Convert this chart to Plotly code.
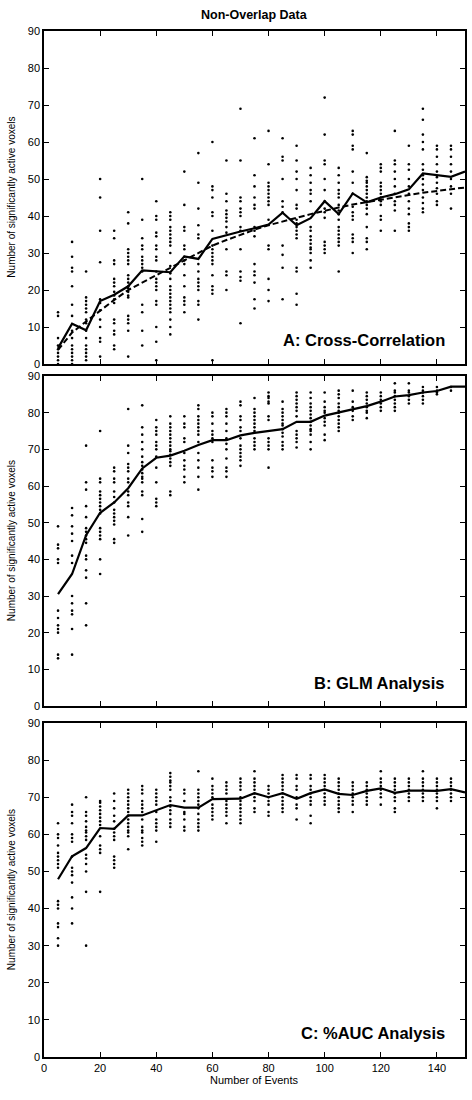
import plotly.graph_objects as go

events = [5, 10, 15, 20, 25, 30, 35, 40, 45, 50, 55, 60, 65, 70, 75,
          80, 85, 90, 95, 100, 105, 110, 115, 120, 125, 130, 135, 140, 145, 150]

# Panel A: Cross-Correlation individual runs
a_points = [
    [14, 13, 7, 5, 4, 3, 2, 1, 0],
    [33, 29, 26, 25, 21, 16, 13, 9, 7, 5, 4, 3, 2, 1, 0],
    [25, 18, 17, 16, 15, 14, 12, 11, 9, 7, 5, 4, 3, 2, 1],
    [50, 45, 36, 27.5, 17.5, 16.5, 14.5, 12, 10, 7, 6, 2],
    [36, 34, 28, 27, 23, 22, 21, 19.5, 18.5, 17.5, 16.5, 12, 11, 9, 8, 5, 4],
    [41, 38, 31, 30, 29, 28, 27, 24, 23, 22, 21, 20.5, 19.5, 18.5, 18, 13, 12, 11, 9, 2],
    [50, 39, 34, 32, 31, 29, 28, 27, 26, 25, 16, 14, 9, 5],
    [44, 40, 39, 35.5, 34.5, 32, 31, 29, 28, 25, 23, 22, 21, 20, 17, 16, 10, 6, 1],
    [41, 40, 39, 37, 36, 35, 34, 33, 32, 30, 26.5, 24.5, 23, 21, 20, 19, 18, 17, 16, 15, 14, 12, 10, 8],
    [52, 43, 37, 36, 32, 31, 29, 28, 27, 24, 21, 18, 17, 16, 14],
    [57, 49, 42, 37.5, 35, 34, 27, 25, 23, 22, 21, 20, 17, 16, 12],
    [60, 48, 47, 45, 41, 40, 36, 32, 31, 30, 29, 28, 27, 24, 21, 20, 19, 1],
    [55, 46, 44, 41.5, 40.5, 39.5, 38.5, 37, 35.5, 31, 25, 24, 20],
    [69, 55, 45, 44, 42, 41, 40, 37, 36, 31, 25, 23.5, 22.5, 11],
    [61, 51, 48, 45, 43, 42, 37, 36, 34.5, 27, 25, 24, 22, 17.5, 15],
    [63, 54, 49, 48, 47, 46, 45, 44, 43, 39, 32, 31, 23, 20, 17],
    [61, 56, 55, 50, 44, 42.5, 41, 32, 29.5, 26, 17.5],
    [59, 55, 52, 50, 47, 43, 42, 39, 38, 37, 36, 35, 34, 26, 25, 19, 16],
    [53, 51, 49, 47, 46, 44, 37, 36, 34.5, 33.5, 32.5, 31.5, 31, 30, 28, 26],
    [72, 62, 55, 54, 50, 47, 44, 42, 41, 39.5, 33, 32, 31, 30],
    [53, 51, 49, 47, 46, 45, 43, 41.5, 40.5, 39, 37, 36, 35, 34, 33, 32, 25],
    [63, 62, 59, 58, 52, 49, 46, 42.5, 41, 40, 39, 35, 34, 33, 30],
    [57, 50.5, 49.5, 49, 48, 47, 46, 45, 44, 43, 42, 40.5, 37, 34, 33, 31],
    [54, 53, 52, 49, 48, 47, 46, 45, 44, 43, 40, 39, 36],
    [63, 55, 54, 52, 50, 48, 46, 44, 43, 41.5, 36],
    [59, 54, 52.5, 50, 48, 46, 44, 42, 40.5, 38, 37, 36],
    [69, 66, 62, 60, 58, 54, 52.5, 51, 50, 48.5, 47, 45, 43.5, 42, 41],
    [59, 58, 56, 54, 52, 50.5, 49, 47.5, 46, 44, 43],
    [59, 58, 56, 54, 52, 50, 48, 46, 42],
    [],
]
a_mean = [4.3, 10.9, 9.1, 17.0, 18.7, 21, 25.3, 25.0, 24.8, 29.1, 28.4, 33.8, 34.9, 35.8, 36.7,
          37.7, 40.9, 37.5, 39.4, 44, 40.5, 46.1, 43.7, 45, 45.9, 47.2, 51.5, 51.1, 50.6, 52]
a_fit = [3.8, 8.5, 11.5, 14.5, 17.3, 20, 22, 24.2, 26, 28, 30, 32, 33.5, 35, 36.3,
         37.5, 38.6, 39.5, 40.5, 41.5, 42.3, 43.1, 43.8, 44.5, 45.1, 45.7, 46.3, 46.8, 47.3, 47.7]

# Panel B: GLM Analysis
b_points = [
    [49, 44, 43, 40, 39, 26, 24, 22, 21, 20, 14, 13],
    [54, 52, 49, 47, 45, 41, 39, 30, 28, 26, 25, 21, 14],
    [71, 61, 59, 54.5, 51.5, 48.5, 47.5, 46.5, 45.5, 44.5, 41, 40, 37, 35, 28, 22],
    [75, 62, 61, 58.5, 57.5, 56.5, 55.5, 54.5, 53.5, 52.5, 48.5, 47.5, 46.5, 45.5, 40, 36],
    [65, 64, 62, 61, 58.5, 57, 55.5, 53.5, 52.5, 51.5, 50.5, 49.5, 45.5, 44.5],
    [81, 71, 69, 66, 65, 64, 62, 61, 58.5, 57.5, 55.5, 54.5, 51.5, 46.5],
    [82, 76, 74, 72, 70, 68, 66.5, 65.5, 64.5, 63.5, 62.5, 62, 61, 58.5, 57.5, 51, 47.5],
    [78, 76, 75, 74, 72, 71, 70, 68, 65, 61, 56.5, 55.5, 54.5],
    [79, 77, 76, 75, 74, 73, 72, 71, 70, 69.5, 68.5, 67.5, 66.5, 65.5, 58.5, 57.5],
    [79, 77, 76, 73, 72, 69, 67, 65.5, 64.5, 62.5, 61],
    [82, 81, 79, 78, 77, 76, 75, 74, 72, 69, 67, 65, 62.5, 59],
    [80, 79, 77, 75, 74, 73, 72, 67, 65, 64, 62.5],
    [81, 80, 79, 77, 75, 73, 71.5, 70, 67.5, 65, 64, 62.5],
    [83, 82, 79, 78, 76, 75, 73, 71, 70, 69, 68, 67, 65.5],
    [84, 81, 80, 79, 78, 77, 76, 75, 73, 72, 71, 70],
    [85.5, 84.5, 84, 83, 82.5, 79, 78, 73, 72, 71, 70, 65],
    [83, 81, 80, 79, 78, 77, 76.5, 75.5, 74.5, 73.5, 72, 71, 70],
    [85.5, 84.5, 83.5, 82.5, 81.5, 80.5, 79, 75, 74, 73, 72, 70.5],
    [85.5, 84, 82.5, 81.5, 80.5, 79.5, 78.5, 77.5, 76.5, 75.5, 75, 74, 72, 70],
    [85.5, 83, 81.5, 80.5, 80, 78.5, 77.5, 76.5, 74, 72.5],
    [86, 85, 84, 82.5, 81.5, 80.5, 80, 79, 78, 77, 76, 75],
    [86, 83, 81.5, 80.5, 79, 78],
    [85.5, 84.5, 83.5, 82.5, 81.5, 80.5, 80, 78.5],
    [85.5, 84.5, 83.5, 82.5, 81.5, 80.5],
    [88, 86, 85.5, 84.5, 83.5, 82.5, 81.5, 80.5],
    [88, 86, 85.5, 84.5, 83.5, 82.5],
    [87, 86, 85.5, 84.5, 83.5, 82.5],
    [87, 86, 85.5, 85],
    [87, 86],
    [],
]
b_mean = [30.5, 36, 46.6, 52.7, 55.5, 59.4, 64.8, 67.7, 68.3, 69.6, 71.2, 72.5, 72.5, 73.8, 74.5,
          75.1, 75.5, 77.5, 77.5, 79.2, 80.1, 80.9, 81.8, 83, 84.4, 84.8, 85.5, 85.9, 87.1, 87.1]

# Panel C: %AUC Analysis
c_points = [
    [63, 60, 59, 57, 55, 54, 53, 52, 51, 42, 41, 40, 36, 35, 32, 30],
    [68, 66, 65, 63, 60, 59, 58, 54, 51, 50, 49, 47, 43, 40, 36],
    [70, 66, 65, 63.5, 62, 61, 60.5, 59.5, 58.5, 54.5, 53.5, 52, 50, 44.5, 30],
    [69, 68.5, 67.5, 66.5, 65.5, 64.5, 63.5, 62.5, 59.5, 57, 56, 55, 44.5],
    [71, 69, 67, 65, 63.5, 61.5, 60.5, 59.5, 58.5, 54, 53, 52, 51],
    [72, 71, 70, 69, 68, 67, 66, 65, 64, 63, 62, 61, 60.5, 59.5, 56],
    [73, 72, 71, 69, 68, 67, 66, 64, 62, 61, 60.5, 59, 58, 57],
    [72, 71, 70, 69, 68, 66, 64, 63, 62, 61, 58],
    [76.5, 75.5, 74.5, 74, 73, 72, 70, 69, 67.5, 66.5, 65.5, 64, 63, 62],
    [72, 71, 69, 66, 65.5, 64, 62, 61],
    [77, 72, 71, 70, 69, 68, 67, 65.5, 64, 63, 62, 61],
    [75, 73, 72, 71, 70, 68, 67, 66, 65, 64],
    [74, 73, 72, 71, 69, 68, 67, 66, 65, 63],
    [75, 74, 73, 72, 70, 69, 68, 67, 66, 65, 64, 63],
    [77, 75, 74, 73, 72, 71, 70, 69, 67, 66],
    [73, 72, 71, 70, 69, 68, 66, 65],
    [76, 75, 74, 73, 72, 71, 70, 69, 68, 67, 66],
    [76, 75, 73, 72, 70, 68, 67, 64],
    [76, 75, 73, 72, 71, 70, 69, 68, 65, 63],
    [76, 75, 74, 73, 72, 71, 70, 69, 68],
    [75, 74, 73, 72, 71, 70, 69, 68, 67, 66],
    [74, 73, 72, 71, 70, 69, 68, 66],
    [74, 73, 72, 71, 70, 69, 68],
    [77, 75, 74, 73, 72, 71, 70, 68],
    [75, 74, 73, 72, 71, 70, 69, 67, 66],
    [75, 74, 73, 72, 71, 70, 69],
    [77, 75, 74, 73, 72, 71, 70, 69],
    [75, 74, 73, 72, 71, 70, 69, 67],
    [75, 74, 73, 72, 71, 70, 69],
    [],
]
c_mean = [47.9, 54.1, 56.3, 61.7, 61.5, 65.1, 65.1, 66.4, 67.9, 67.2, 67.2, 69.5, 69.5, 69.6, 71.1,
          70, 71.1, 69.6, 71.1, 72.1, 70.9, 70.6, 71.7, 72.4, 71.2, 71.8, 71.8, 71.7, 72.2, 71.3]

panel_labels = ["A: Cross-Correlation", "B: GLM Analysis", "C: %AUC Analysis"]
y_title = "Number of significantly active voxels"
x_title = "Number of Events"
main_title = "Non-Overlap Data"
x_ticks = [0, 20, 40, 60, 80, 100, 120, 140]
y_ticks = [0, 10, 20, 30, 40, 50, 60, 70, 80, 90]

W, H = 472, 1100
ML, MR, MT, MB = 44, 5, 31, 43
plot_h = H - MT - MB


def py(pix):
    return (H - MB - pix) / plot_h


def px(pix):
    return (pix - ML) / (W - ML - MR)


domains = [(py(364), py(31)), (py(706), py(376)), (py(1057), py(723))]

fig = go.Figure()
FONT = "Liberation Sans, Arial, Helvetica, sans-serif"

panels = [(a_points, a_mean, a_fit), (b_points, b_mean, None), (c_points, c_mean, None)]
for i, (pts, mean, fit) in enumerate(panels):
    xs, ys = [], []
    for ev, vals in zip(events, pts):
        for v in vals:
            xs.append(ev)
            ys.append(v)
    sfx = "" if i == 0 else str(i + 1)
    fig.add_trace(go.Scatter(x=xs, y=ys, mode="markers",
                             marker=dict(size=2.6, color="black", line=dict(width=0)),
                             xaxis="x" + sfx, yaxis="y" + sfx, showlegend=False, cliponaxis=True))
    if fit is not None:
        fig.add_trace(go.Scatter(x=events, y=fit, mode="lines",
                                 line=dict(color="black", width=2, dash="6px,3px"),
                                 xaxis="x" + sfx, yaxis="y" + sfx, showlegend=False))
    fig.add_trace(go.Scatter(x=events, y=mean, mode="lines",
                             line=dict(color="black", width=2.2),
                             xaxis="x" + sfx, yaxis="y" + sfx, showlegend=False))

    axcommon = dict(showline=True, linecolor="black", linewidth=1.5, mirror="ticks",
                    ticks="inside", ticklen=5, tickwidth=1.2, tickcolor="black",
                    showgrid=False, zeroline=False,
                    tickfont=dict(family=FONT, size=11, color="black"))
    xa = dict(axcommon, domain=[0, 1], range=[0, 150], tickvals=x_ticks,
              anchor="y" + sfx, showticklabels=(i == 2))
    ya = dict(axcommon, domain=list(domains[i]), range=[0, 90], tickvals=y_ticks,
              anchor="x" + sfx)
    fig.update_layout(**{"xaxis" + sfx: xa, "yaxis" + sfx: ya})

    # y-axis title
    d0, d1 = domains[i]
    fig.add_annotation(text=y_title, xref="paper", yref="paper", x=px(11), y=(d0 + d1) / 2,
                       textangle=-90, showarrow=False, xanchor="center", yanchor="middle",
                       font=dict(family=FONT, size=10, color="black"))

# panel labels
for lab, ypix in zip(panel_labels, [340, 683, 1033]):
    fig.add_annotation(text="<b>" + lab + "</b>", xref="paper", yref="paper",
                       x=px(449), y=py(ypix), xanchor="right", yanchor="middle",
                       showarrow=False, font=dict(family=FONT, size=16.5, color="black"))

fig.add_annotation(text="<b>" + main_title + "</b>", xref="paper", yref="paper",
                   x=px(255), y=py(15), xanchor="center", yanchor="middle", showarrow=False,
                   font=dict(family=FONT, size=12.5, color="black"))
fig.add_annotation(text=x_title, xref="paper", yref="paper",
                   x=px(255), y=py(1080), xanchor="center", yanchor="middle", showarrow=False,
                   font=dict(family=FONT, size=11, color="black"))

fig.update_layout(width=W, height=H, margin=dict(l=ML, r=MR, t=MT, b=MB),
                  paper_bgcolor="white", plot_bgcolor="white", showlegend=False)

fig.write_html("out.html")
